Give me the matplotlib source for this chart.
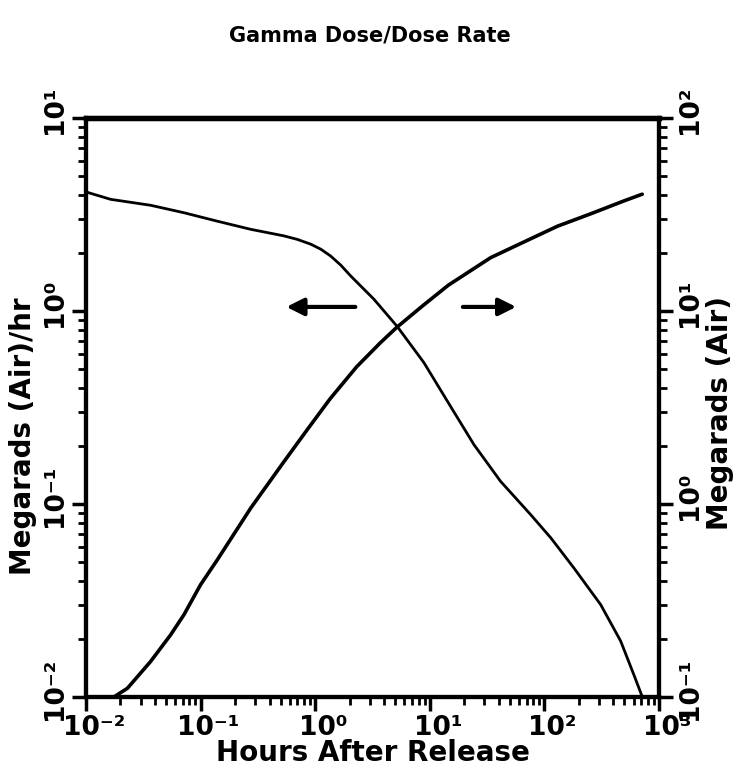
import matplotlib
matplotlib.use("Agg")
import matplotlib.pyplot as plt
from matplotlib.ticker import FuncFormatter, LogLocator, NullFormatter
from matplotlib.transforms import ScaledTranslation
import numpy as np

# dose rate, read against left axis (Megarads/hr)
rate_hours = [0.01, 0.0164, 0.0367, 0.0716, 0.140, 0.274, 0.535, 0.698, 0.914, 1.12,
              1.36, 1.67, 2.04, 3.26, 5.21, 8.89, 15.2, 24.3, 41.5, 75.9, 114, 181,
              310, 463, 605, 716]
rate_mrad = [4.14, 3.79, 3.53, 3.23, 2.92, 2.65, 2.45, 2.35, 2.22, 2.09,
             1.93, 1.73, 1.52, 1.15, 0.830, 0.540, 0.320, 0.203, 0.131, 0.0881,
             0.0667, 0.0466, 0.0301, 0.0195, 0.0130, 0.0100]

# integrated dose, read against right axis (Megarads)
dose_hours = [0.0175, 0.0230, 0.0367, 0.0548, 0.0716, 0.100, 0.140, 0.274, 0.535,
              0.871, 1.35, 2.30, 3.67, 5.14, 8.77, 14.5, 34.0, 66.4, 130, 254, 495, 714]
dose_mrad = [0.1, 0.111, 0.153, 0.210, 0.267, 0.382, 0.514, 0.953, 1.66,
             2.47, 3.51, 5.14, 6.81, 8.22, 10.7, 13.6, 18.9, 22.8, 27.5, 31.9, 37.2, 40.3]

plt.rcParams['font.family'] = 'DejaVu Sans'
plt.rcParams['font.weight'] = 'bold'

SUP = str.maketrans('-0123456789', '⁻⁰¹²³⁴⁵⁶⁷⁸⁹')

def pow10(v, pos):
    return '10' + str(int(round(np.log10(v)))).translate(SUP)

fig = plt.figure(figsize=(7.4, 7.8), dpi=100)
ax = fig.add_axes([0.1162, 0.1064, 0.7743, 0.7423])
ax2 = ax.twinx()

ax.plot(rate_hours, rate_mrad, color='black', linewidth=2.0, solid_capstyle='round')
ax2.plot(dose_hours, dose_mrad, color='black', linewidth=2.6, solid_capstyle='round')

ax.set_xscale('log')
ax.set_yscale('log')
ax2.set_yscale('log')
ax.set_xlim(1e-2, 1e3)
ax.set_ylim(1e-2, 1e1)
ax2.set_ylim(1e-1, 1e2)

for a in (ax, ax2):
    for s in a.spines.values():
        s.set_linewidth(3)
    a.spines['top'].set_linewidth(3.8)
    a.xaxis.set_major_formatter(FuncFormatter(pow10))
    a.yaxis.set_major_formatter(FuncFormatter(pow10))
    a.yaxis.set_minor_locator(LogLocator(base=10, subs=np.arange(2, 10)))
    a.yaxis.set_minor_formatter(NullFormatter())

ax.xaxis.set_minor_locator(LogLocator(base=10, subs=np.arange(2, 10)))
ax.xaxis.set_minor_formatter(NullFormatter())

ax.tick_params(which='major', direction='out', length=10, width=2.5, labelsize=19, top=False, pad=3)
ax.tick_params(which='minor', direction='out', length=6, width=2, top=False)
ax.tick_params(axis='y', labelrotation=90, pad=3)
ax2.tick_params(which='major', direction='out', length=10, width=2.5, labelsize=19,
                labelrotation=90, pad=3)
ax2.tick_params(which='minor', direction='out', length=6, width=2)

# keep the "10" on the tick, exponent hanging off to the side
shift_x = ScaledTranslation(8 / 100, 0, fig.dpi_scale_trans)
shift_y = ScaledTranslation(0, 8 / 100, fig.dpi_scale_trans)
for lab in ax.get_xticklabels():
    lab.set_transform(lab.get_transform() + shift_x)
for lab in ax.get_yticklabels() + ax2.get_yticklabels():
    lab.set_verticalalignment('center')
    lab.set_transform(lab.get_transform() + shift_y)

ax.set_xlabel('Hours After Release', fontsize=20, fontweight='bold', va='top')
ax.xaxis.set_label_coords(0.5, -0.073)
ax.set_ylabel('Megarads (Air)/hr', fontsize=20, fontweight='bold')
ax.yaxis.set_label_coords(-0.085, 0.45)
ax2.set_ylabel('Megarads (Air)', fontsize=20, fontweight='bold', rotation=90)
ax2.yaxis.set_label_coords(1.082, 0.49)

# arrows pointing to the axis each curve belongs to
ax.annotate('', xy=(0.53, 1.05), xytext=(2.37, 1.05),
            arrowprops=dict(arrowstyle='-|>', color='black', lw=3, mutation_scale=26))
ax.annotate('', xy=(60, 1.05), xytext=(18.4, 1.05),
            arrowprops=dict(arrowstyle='-|>', color='black', lw=3, mutation_scale=26))

fig.text(0.5, 0.955, 'Gamma Dose/Dose Rate', ha='center', va='center', fontsize=15, fontweight='bold')

fig.savefig('out.png', dpi=100)
